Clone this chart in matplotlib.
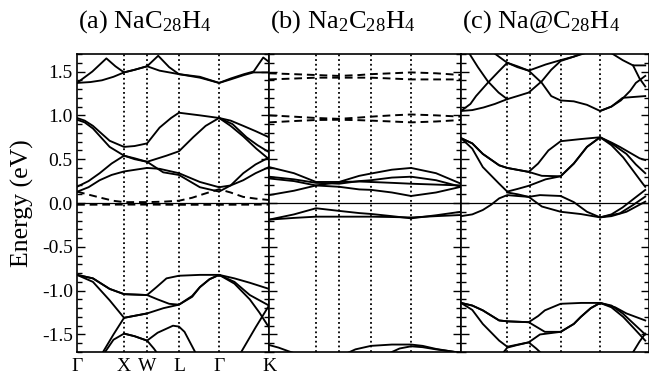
import matplotlib
matplotlib.use("Agg")
import matplotlib.pyplot as plt
from matplotlib.ticker import MultipleLocator

plt.rcParams['font.family'] = ['Liberation Serif', 'DejaVu Serif']
plt.rcParams['mathtext.fontset'] = 'custom'
plt.rcParams['mathtext.rm'] = 'Liberation Serif'
plt.rcParams['mathtext.it'] = 'Liberation Serif:italic'
plt.rcParams['axes.unicode_minus'] = False

# high-symmetry points
kpts = [0.0, 0.245, 0.365, 0.531, 0.74, 1.0]
klabels = ['Γ', 'X', 'W', 'L', 'Γ', 'K']
titles = ['(a) NaC$_{28}$H$_4$', '(b) Na$_2$C$_{28}$H$_4$', '(c) Na@C$_{28}$H$_4$']

# ---------------- panel (a) ----------------
a_C1 = ([0, 0.08, 0.153, 0.20, 0.245, 0.30, 0.365, 0.423, 0.48, 0.531, 0.64, 0.74, 0.80, 0.87, 0.92, 0.97, 1.0],
        [1.37, 1.50, 1.65, 1.56, 1.49, 1.52, 1.56, 1.68, 1.55, 1.47, 1.43, 1.37, 1.42, 1.47, 1.50, 1.66, 1.61])
a_C2 = ([0, 0.07, 0.13, 0.19, 0.245, 0.30, 0.365, 0.43, 0.531, 0.64, 0.74, 0.80, 0.87, 0.92, 1.0],
        [1.37, 1.38, 1.40, 1.44, 1.49, 1.52, 1.56, 1.51, 1.47, 1.44, 1.37, 1.41, 1.46, 1.49, 1.49])
a_M1 = ([0, 0.04, 0.083, 0.17, 0.245, 0.30, 0.365, 0.43, 0.49, 0.531, 0.64, 0.74, 0.80, 0.866, 0.93, 1.0],
        [0.97, 0.94, 0.88, 0.71, 0.64, 0.65, 0.68, 0.86, 0.97, 1.03, 1.00, 0.97, 0.94, 0.88, 0.82, 0.75])
a_M2 = ([0, 0.04, 0.083, 0.17, 0.245, 0.30, 0.365, 0.466, 0.531, 0.605, 0.67, 0.74, 0.81, 0.883, 0.94, 1.0],
        [0.95, 0.92, 0.85, 0.64, 0.54, 0.50, 0.47, 0.54, 0.59, 0.75, 0.88, 0.97, 0.90, 0.75, 0.66, 0.58])
a_M3 = ([0.74, 0.80, 0.866, 0.934, 1.0],
        [0.97, 0.88, 0.76, 0.62, 0.50])
a_L1 = ([0, 0.06, 0.118, 0.18, 0.245, 0.30, 0.365, 0.449, 0.531, 0.64, 0.74, 0.80, 0.866, 0.93, 1.0],
        [0.185, 0.25, 0.34, 0.45, 0.54, 0.51, 0.47, 0.35, 0.32, 0.18, 0.13, 0.20, 0.34, 0.44, 0.52])
a_L2 = ([0, 0.06, 0.118, 0.18, 0.245, 0.365, 0.43, 0.531, 0.64, 0.74, 0.80, 0.866, 0.93, 1.0],
        [0.128, 0.18, 0.26, 0.32, 0.36, 0.40, 0.39, 0.34, 0.24, 0.18, 0.20, 0.26, 0.34, 0.41])
a_D1 = ([0, 0.07, 0.135, 0.19, 0.245, 0.365, 0.45, 0.531, 0.60, 0.656, 0.70, 0.74, 0.80, 0.865, 0.93, 1.0],
        [0.13, 0.09, 0.054, 0.025, 0.01, 0.01, 0.015, 0.026, 0.06, 0.10, 0.13, 0.157, 0.12, 0.07, 0.05, 0.034])
a_D2 = ([0, 0.245, 0.365, 0.531, 0.74, 1.0],
        [-0.02, -0.018, -0.018, -0.02, -0.02, -0.018])
a_V1 = ([0, 0.083, 0.17, 0.245, 0.365, 0.414, 0.466, 0.531, 0.64, 0.74, 0.82, 0.90, 1.0],
        [-0.82, -0.86, -0.98, -1.04, -1.05, -0.96, -0.86, -0.83, -0.82, -0.82, -0.86, -0.91, -0.98])
a_V1b = ([0, 0.083, 0.17, 0.245, 0.365, 0.42, 0.48, 0.531, 0.60, 0.64, 0.69, 0.74, 0.82, 0.90, 1.0],
         [-0.82, -0.86, -0.98, -1.04, -1.05, -1.10, -1.15, -1.16, -1.06, -0.96, -0.87, -0.82, -0.90, -1.05, -1.17])
a_V2 = ([0, 0.083, 0.17, 0.245, 0.365, 0.45, 0.531, 0.60, 0.64, 0.69, 0.74, 0.82, 0.90, 0.95, 1.0],
        [-0.82, -0.90, -1.11, -1.31, -1.26, -1.20, -1.16, -1.07, -0.96, -0.87, -0.82, -0.92, -1.10, -1.25, -1.42])
a_V3 = ([0.13, 0.19, 0.245, 0.365],
        [-1.72, -1.50, -1.31, -1.26])
a_V4 = ([0.14, 0.19, 0.245, 0.30, 0.365, 0.40, 0.42],
        [-1.72, -1.56, -1.49, -1.52, -1.57, -1.66, -1.72])
a_V5 = ([0.245, 0.30, 0.365, 0.42, 0.50, 0.531, 0.56, 0.62],
        [-1.49, -1.52, -1.57, -1.48, -1.40, -1.41, -1.47, -1.72])
a_V6 = ([0.85, 0.93, 1.0],
        [-1.72, -1.42, -1.17])

# ---------------- panel (b) ----------------
b_k = [0, 0.13, 0.245, 0.365, 0.47, 0.531, 0.64, 0.74, 0.87, 1.0]
b_E1 = [1.48, 1.47, 1.46, 1.45, 1.46, 1.47, 1.48, 1.49, 1.48, 1.46]
b_E2 = [1.41, 1.42, 1.43, 1.43, 1.43, 1.43, 1.42, 1.41, 1.41, 1.41]
b_E3 = [1.00, 0.985, 0.97, 0.96, 0.975, 0.985, 1.00, 1.01, 1.00, 0.985]
b_E4 = [0.92, 0.935, 0.947, 0.95, 0.945, 0.94, 0.93, 0.92, 0.93, 0.947]
b_B1 = [0.41, 0.34, 0.24, 0.24, 0.31, 0.336, 0.38, 0.40, 0.34, 0.22]
b_B2 = [0.30, 0.27, 0.23, 0.22, 0.25, 0.26, 0.29, 0.30, 0.26, 0.185]
b_B3 = [0.28, 0.25, 0.20, 0.24, 0.245, 0.24, 0.23, 0.22, 0.21, 0.20]
b_B4 = [0.09, 0.14, 0.20, 0.185, 0.155, 0.15, 0.12, 0.08, 0.12, 0.185]
b_N1 = [-0.19, -0.13, -0.06, -0.09, -0.115, -0.125, -0.15, -0.175, -0.14, -0.10]
b_N2 = [-0.19, -0.17, -0.156, -0.156, -0.156, -0.156, -0.16, -0.165, -0.15, -0.137]
b_P1 = ([0, 0.05, 0.10, 0.14], [-1.62, -1.65, -1.69, -1.72])
b_P2 = ([0.40, 0.45, 0.531, 0.64, 0.74, 0.80, 0.87, 0.94, 1.0],
        [-1.72, -1.67, -1.63, -1.615, -1.615, -1.63, -1.665, -1.69, -1.71])
b_P3 = ([0.62, 0.68, 0.74, 0.80, 0.87, 0.94, 1.0],
        [-1.72, -1.66, -1.635, -1.645, -1.67, -1.69, -1.71])

# ---------------- panel (c) ----------------
c_U1 = ([0, 0.06, 0.12, 0.18, 0.246, 0.30, 0.36, 0.43, 0.48, 0.53, 0.60, 0.66],
        [1.05, 1.06, 1.09, 1.13, 1.185, 1.22, 1.26, 1.39, 1.52, 1.62, 1.67, 1.72])
c_U2 = ([0, 0.05, 0.08, 0.142, 0.20, 0.246, 0.30, 0.36, 0.43, 0.48, 0.53, 0.60, 0.67, 0.74, 0.80, 0.86, 0.98],
        [1.05, 1.13, 1.22, 1.37, 1.50, 1.60, 1.56, 1.51, 1.37, 1.22, 1.17, 1.16, 1.12, 1.05, 1.10, 1.20, 1.22])
c_U3 = ([0.04, 0.09, 0.142, 0.20, 0.246], [1.72, 1.55, 1.39, 1.26, 1.185])
c_U4 = ([0.17, 0.246, 0.30, 0.36, 0.45, 0.53, 0.60, 0.66],
        [1.72, 1.60, 1.55, 1.51, 1.58, 1.63, 1.67, 1.71])
c_U5 = ([0.74, 0.80, 0.85, 0.90, 0.93, 0.98], [1.05, 1.10, 1.17, 1.28, 1.37, 1.45])
c_U6 = ([0.80, 0.86, 0.915, 0.98], [1.71, 1.63, 1.57, 1.57])
c_U7 = ([0.915, 0.95, 0.98], [1.57, 1.42, 1.33])
c_M1 = ([0, 0.06, 0.116, 0.203, 0.246, 0.36, 0.41, 0.465, 0.53, 0.64, 0.74, 0.80, 0.845, 0.95, 0.98],
        [0.74, 0.68, 0.56, 0.43, 0.40, 0.355, 0.45, 0.60, 0.705, 0.73, 0.75, 0.69, 0.64, 0.51, 0.49])
c_M1b = ([0, 0.06, 0.116, 0.203, 0.246, 0.36, 0.43, 0.53, 0.60, 0.67, 0.74, 0.80, 0.88, 0.93, 0.98],
         [0.74, 0.68, 0.56, 0.43, 0.40, 0.355, 0.31, 0.305, 0.45, 0.64, 0.75, 0.68, 0.56, 0.44, 0.34])
c_M2 = ([0, 0.06, 0.116, 0.203, 0.246, 0.30, 0.36, 0.45, 0.53, 0.60, 0.67, 0.74, 0.80, 0.863, 0.967, 0.98],
        [0.74, 0.62, 0.41, 0.22, 0.13, 0.16, 0.196, 0.27, 0.305, 0.45, 0.64, 0.75, 0.66, 0.52, 0.22, 0.185])
c_F1 = ([0, 0.06, 0.116, 0.16, 0.203, 0.246, 0.30, 0.36, 0.42, 0.53, 0.60, 0.67, 0.74, 0.845, 0.915, 0.98],
        [-0.15, -0.13, -0.08, -0.02, 0.053, 0.09, 0.08, 0.07, 0.09, 0.08, 0.01, -0.10, -0.164, -0.118, -0.023, 0.073])
c_F2 = ([0.246, 0.30, 0.36, 0.43, 0.53, 0.637, 0.74, 0.80, 0.88, 0.98],
        [0.12, 0.10, 0.07, -0.04, -0.10, -0.126, -0.164, -0.15, -0.10, 0.015])
c_F3 = ([0.74, 0.80, 0.86, 0.92, 0.98], [-0.164, -0.13, -0.05, 0.05, 0.149])
c_L1 = ([0, 0.06, 0.116, 0.203, 0.246, 0.36, 0.41, 0.446, 0.53, 0.64, 0.74, 0.82, 0.88, 0.98],
        [-1.14, -1.17, -1.225, -1.34, -1.35, -1.36, -1.29, -1.225, -1.15, -1.14, -1.14, -1.19, -1.26, -1.34])
c_L1b = ([0, 0.06, 0.116, 0.203, 0.246, 0.36, 0.446, 0.53, 0.60, 0.637, 0.69, 0.74, 0.80, 0.863, 0.92, 0.98],
         [-1.14, -1.17, -1.225, -1.34, -1.35, -1.36, -1.47, -1.47, -1.38, -1.30, -1.20, -1.14, -1.19, -1.30, -1.43, -1.57])
c_L2 = ([0, 0.06, 0.116, 0.203, 0.246, 0.36, 0.42, 0.53, 0.60, 0.637, 0.69, 0.74, 0.80, 0.86, 0.93, 0.98],
        [-1.14, -1.22, -1.38, -1.57, -1.64, -1.59, -1.50, -1.47, -1.38, -1.30, -1.20, -1.14, -1.17, -1.26, -1.40, -1.50])
c_L3 = ([0.22, 0.246, 0.30, 0.36, 0.40, 0.43], [-1.72, -1.65, -1.62, -1.59, -1.66, -1.72])
c_L4 = ([0.91, 0.95, 0.98], [-1.72, -1.58, -1.49])

panel_a_solid = [a_C1, a_C2, a_M1, a_M2, a_M3, a_L1, a_L2, a_V1, a_V1b, a_V2, a_V3, a_V4, a_V5, a_V6]
panel_a_dashed = [a_D1, a_D2]
panel_b_solid = [(b_k, e) for e in (b_B1, b_B2, b_B3, b_B4, b_N1, b_N2)] + [b_P1, b_P2, b_P3]
panel_b_dashed = [(b_k, e) for e in (b_E1, b_E2, b_E3, b_E4)]
panel_c_solid = [c_U1, c_U2, c_U3, c_U4, c_U5, c_U6, c_U7, c_M1, c_M1b, c_M2,
                 c_F1, c_F2, c_F3, c_L1, c_L1b, c_L2, c_L3, c_L4]
panel_c_dashed = []

W, H = 649, 375
fig = plt.figure(figsize=(W / 100, H / 100), dpi=100)
bottom = 23 / H
height = 298 / H
lefts = [77, 269, 461]
widths = [192, 192, 188]
xmaxs = [1.0, 1.0, 0.98]
solids = [panel_a_solid, panel_b_solid, panel_c_solid]
dasheds = [panel_a_dashed, panel_b_dashed, panel_c_dashed]

for i in range(3):
    ax = fig.add_axes([lefts[i] / W, bottom, widths[i] / W, height])
    ax.set_xlim(0, xmaxs[i])
    ax.set_ylim(-1.7, 1.7)
    for k, e in solids[i]:
        ax.plot(k, e, color='black', lw=1.35, solid_joinstyle='round')
    for k, e in dasheds[i]:
        ax.plot(k, e, color='black', lw=1.4, linestyle=(0, (4, 2.5)))
    for kp in kpts[1:-1]:
        ax.axvline(kp, color='black', lw=1.3, linestyle=(0, (1, 1.6)))
    ax.axhline(0.0, color='black', lw=0.9)
    for s in ax.spines.values():
        s.set_linewidth(1.2)
    ax.yaxis.set_major_locator(MultipleLocator(0.5))
    ax.yaxis.set_minor_locator(MultipleLocator(0.1))
    ax.tick_params(axis='y', which='both', direction='in', left=True, right=True, width=1.0)
    ax.tick_params(axis='y', which='major', length=5.8)
    ax.tick_params(axis='y', which='minor', length=3.6)
    ax.set_xticks(kpts)
    ax.tick_params(axis='x', length=0, pad=4)
    if i == 0:
        ax.set_xticklabels(klabels, fontsize=14)
        ax.set_yticks([-1.5, -1.0, -0.5, 0.0, 0.5, 1.0, 1.5])
        ax.set_yticklabels(['-1.5', '-1.0', '-0.5', '0.0', '0.5', '1.0', '1.5'], fontsize=14)
        ax.tick_params(axis='y', which='major', pad=3)
        ax.set_ylabel('Energy (eV)', fontsize=18.5)
        ax.yaxis.set_label_coords(-0.225, 0.5)
    else:
        ax.set_xticklabels([])
        ax.set_yticklabels([])
    ax.text(0.005, 1.087, titles[i], transform=ax.transAxes, fontsize=19,
            ha='left', va='baseline')

fig.savefig('out.png', dpi=100)
